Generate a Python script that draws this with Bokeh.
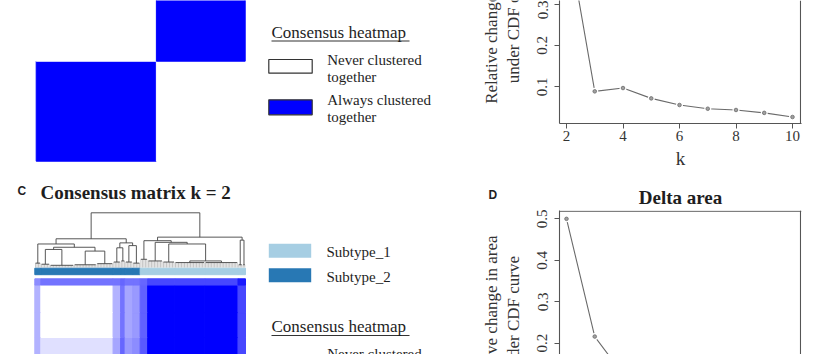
import math
from bokeh.plotting import figure
from bokeh.layouts import row, column
from bokeh.models import Range1d, Span, FixedTicker
from bokeh.core.properties import value
from bokeh.embed import file_html
from bokeh.resources import INLINE

# ---------------- data ----------------
k_values = [2, 3, 4, 5, 6, 7, 8, 9, 10]
delta_area_b = [0.48, 0.089, 0.097, 0.072, 0.056, 0.047, 0.044, 0.037, 0.027]
delta_area_d = [0.50, 0.216, 0.125, 0.085, 0.065, 0.052, 0.045, 0.038, 0.030]
x_ticks = [2, 4, 6, 8, 10]
y_ticks_b = [0.1, 0.2, 0.3]
y_ticks_d = [0.2, 0.3, 0.4, 0.5]

# panel A consensus matrix (k = 2): cluster sizes and block consensus
clusters_a = [69, 51]
consensus_a = [[1.0, 0.0],
               [0.0, 1.0]]

# panel C consensus matrix (k = 2): ordered sample segments
segment_sizes_c = [4, 48, 5, 3, 5, 5, 5, 18, 20, 22, 5]
segment_subtype_c = [2, 2, 2, 2, 2, 2, 1, 1, 1, 1, 1]
consensus_c = [
    [0.80, 0.70, 0.60, 0.45, 0.55, 0.50, 0.35, 0.30, 0.30, 0.30, 0.45],
    [0.70, 1.00, 0.75, 0.45, 0.70, 0.60, 0.10, 0.12, 0.00, 0.00, 0.55],
    [0.60, 0.75, 0.90, 0.50, 0.60, 0.60, 0.40, 0.35, 0.30, 0.30, 0.55],
    [0.45, 0.45, 0.50, 0.90, 0.50, 0.50, 0.60, 0.60, 0.55, 0.55, 0.60],
    [0.55, 0.70, 0.60, 0.50, 0.90, 0.60, 0.45, 0.40, 0.35, 0.35, 0.55],
    [0.50, 0.60, 0.60, 0.50, 0.60, 0.90, 0.50, 0.45, 0.40, 0.40, 0.55],
    [0.35, 0.10, 0.40, 0.60, 0.45, 0.50, 0.90, 0.65, 0.62, 0.62, 0.60],
    [0.30, 0.12, 0.35, 0.60, 0.40, 0.45, 0.65, 1.00, 1.00, 1.00, 0.72],
    [0.30, 0.00, 0.30, 0.55, 0.35, 0.40, 0.62, 1.00, 1.00, 1.00, 0.72],
    [0.30, 0.00, 0.30, 0.55, 0.35, 0.40, 0.62, 1.00, 1.00, 1.00, 0.72],
    [0.45, 0.55, 0.55, 0.60, 0.55, 0.55, 0.60, 0.72, 0.72, 0.72, 0.90],
]
subtype_names = ["Subtype_1", "Subtype_2"]
subtype_colors = ["#a6cee3", "#2878b4"]

# dendrogram of panel C: leaf groups (first sample, last sample, height) and merges
leaf_groups_c = [
    (0, 3, 0.08), (4, 9, 0.06), (10, 25, 0.04), (26, 40, 0.05), (41, 51, 0.07),
    (52, 56, 0.10), (57, 59, 0.12), (60, 64, 0.10), (65, 69, 0.08),
    (70, 74, 0.15), (75, 84, 0.12), (85, 92, 0.10), (93, 112, 0.09),
    (113, 134, 0.09), (135, 137, 0.05), (138, 139, 0.05),
]
tree_c = (1.0,
          (0.525, (0.43, 0, (0.37, (0.33, 1, 2), (0.30, 3, 4))),
                  (0.45, (0.36, 5, 6), (0.40, 7, 8))),
          (0.555, (0.49, 9, (0.46, 10, (0.43, 11, (0.12, 12, 13)))),
                  (0.50, 14, 15)))

ylabel_lines = ["Relative change in area", "under CDF curve"]

SERIF = "Liberation Serif"
SANS = "Liberation Sans"
TXT = "#1e1e1e"
AX = "#555555"
LEFT_W = 520


def cons_color(v):
    r = int(round(255 * (1 - v)))
    return "#%02x%02x%02x" % (r, r, 255)


def cum(sizes):
    out = [0]
    for s in sizes:
        out.append(out[-1] + s)
    return out


# ---------------- left canvas (panels A and C, plus left margins of B and D) ----------------
p = figure(width=LEFT_W, height=354, x_range=Range1d(0, LEFT_W), y_range=Range1d(354, 0),
           output_backend="svg", toolbar_location=None, min_border=0,
           outline_line_color=None)
p.axis.visible = False
p.grid.visible = False

# panel A heatmap
HA_X0, HA_W, HA_BOTTOM = 35.7, 209.0, 160.7
ca = cum(clusters_a)
sw_a = HA_W / ca[-1]
rh_a = 100.0 / clusters_a[0]
qa = dict(left=[], right=[], top=[], bottom=[], color=[])
for i in range(len(clusters_a)):
    for j in range(len(clusters_a)):
        qa["left"].append(HA_X0 + ca[j] * sw_a)
        qa["right"].append(HA_X0 + ca[j + 1] * sw_a)
        qa["bottom"].append(HA_BOTTOM - ca[i] * rh_a)
        qa["top"].append(HA_BOTTOM - ca[i + 1] * rh_a)
        qa["color"].append(cons_color(consensus_a[i][j]))
p.quad(left="left", right="right", top="top", bottom="bottom", fill_color="color",
       line_color="color", line_width=1.0, source=qa)

# panel C heatmap
HC_X0, HC_W, HC_TOP = 34.3, 210.7, 278.3
cc = cum(segment_sizes_c)
n_c = cc[-1]
sw_c = HC_W / n_c
rh_c = sw_c * 0.83
HC_BOTTOM = HC_TOP + n_c * rh_c
qc = dict(left=[], right=[], top=[], bottom=[], color=[])
for i in range(len(segment_sizes_c)):
    for j in range(len(segment_sizes_c)):
        qc["left"].append(HC_X0 + cc[j] * sw_c)
        qc["right"].append(HC_X0 + cc[j + 1] * sw_c)
        qc["bottom"].append(HC_BOTTOM - cc[i] * rh_c)
        qc["top"].append(HC_BOTTOM - cc[i + 1] * rh_c)
        qc["color"].append(cons_color(consensus_c[i][j]))
p.quad(left="left", right="right", top="top", bottom="bottom", fill_color="color",
       line_color="color", line_width=1.0, source=qc)

# subtype colour bar
BAR_TOP, BAR_BOTTOM = 267.7, 274.2
qb = dict(left=[], right=[], color=[])
for j, st in enumerate(segment_subtype_c):
    qb["left"].append(HC_X0 + cc[j] * sw_c)
    qb["right"].append(HC_X0 + cc[j + 1] * sw_c)
    qb["color"].append(subtype_colors[st - 1])
p.quad(left="left", right="right", top=BAR_TOP, bottom=BAR_BOTTOM, fill_color="color",
       line_color="color", line_width=1.0, source=qb)

# dendrogram
DEND_BASE, DEND_SCALE = 267.0, 54.7
seg = dict(x0=[], y0=[], x1=[], y1=[])
comb = dict(x0=[], y0=[], x1=[], y1=[])


def sx(i):
    return HC_X0 + (i + 0.5) * sw_c


def hy(h):
    return DEND_BASE - h * DEND_SCALE


def add(d, x0, y0, x1, y1):
    d["x0"].append(x0); d["y0"].append(y0); d["x1"].append(x1); d["y1"].append(y1)


def draw(node):
    if isinstance(node, int):
        a, b, h = leaf_groups_c[node]
        for i in range(a, b + 1):
            add(comb, sx(i), hy(0), sx(i), hy(h))
        add(seg, sx(a), hy(h), sx(b), hy(h))
        return (sx(a) + sx(b)) / 2, h
    h, l, r = node
    xl, hl = draw(l)
    xr, hr = draw(r)
    add(seg, xl, hy(hl), xl, hy(h))
    add(seg, xr, hy(hr), xr, hy(h))
    add(seg, xl, hy(h), xr, hy(h))
    return (xl + xr) / 2, h


draw(tree_c)
p.segment(x0="x0", y0="y0", x1="x1", y1="y1", line_color="#8a8a8a", line_width=0.5, source=comb)
p.segment(x0="x0", y0="y0", x1="x1", y1="y1", line_color="#444444", line_width=0.9, source=seg)

# legends
p.quad(left=[268.3], right=[311.7], top=[59.0], bottom=[72.7], fill_color="white",
       line_color="#333333", line_width=1.2)
p.quad(left=[268.3], right=[311.7], top=[99.3], bottom=[114.3], fill_color=cons_color(1.0),
       line_color="#333333", line_width=1.2)
p.quad(left=[268.3], right=[311.7], top=[354.5], bottom=[368.0], fill_color="white",
       line_color="#333333", line_width=1.2)
p.quad(left=[268.3], right=[310.7], top=[243.3], bottom=[257.3], fill_color=subtype_colors[0],
       line_color=None)
p.quad(left=[268.3], right=[310.7], top=[267.7], bottom=[281.7], fill_color=subtype_colors[1],
       line_color=None)
p.segment(x0=[271, 271], y0=[40.5, 335.0], x1=[409, 409], y1=[40.5, 335.0],
          line_color="#333333", line_width=1.1)


def txt(xs, baselines, texts, size, font=SERIF, style="normal", align="left", angle=0.0,
        color=TXT, mid=None):
    # place texts by their baseline (or by their centre when rotated)
    px = float(size.replace("px", ""))
    ys = [b - 0.34 * px for b in baselines] if mid is None else mid
    p.text(x=xs, y=ys, text=texts, text_font=value(font), text_font_size=value(size),
           text_font_style=style, text_baseline="middle", text_align=align,
           text_color=color, angle=angle)


txt([271, 271], [37.3, 331.7], ["Consensus heatmap", "Consensus heatmap"], "17px")
txt([326.7, 326.7, 326.7, 326.7, 326.7],
    [64.5, 81.5, 104.5, 121.5, 359.0],
    ["Never clustered", "together", "Always clustered", "together", "Never clustered"], "15px")
txt([326, 326], [256.7, 281.7], subtype_names, "15px")
txt([40], [198], ["Consensus matrix k = 2"], "19px", style="bold")
txt([17], [195], ["C"], "12px", font=SANS, style="bold")
txt([488], [199], ["D"], "12px", font=SANS, style="bold")

# rotated y-axis titles of the two delta-area panels
txt([491, 513], None, ylabel_lines, "17px", align="center", angle=math.pi / 2,
    color="#333333", mid=[23.8, 23.8])
txt([491, 513], None, ylabel_lines, "17px", align="center", angle=math.pi / 2,
    color="#333333", mid=[314.5, 314.5])

# ---------------- right panels (delta area) ----------------
FRAME_LEFT = 559.0
PX_PER_K = 28.25
K_AT_LEFT = 2 - (566.0 - FRAME_LEFT) / PX_PER_K
BORDER_LEFT = int(FRAME_LEFT - LEFT_W)


def page_to_k(px):
    return K_AT_LEFT + (px - FRAME_LEFT) / PX_PER_K


def style_axes(f, yticks):
    for ax in f.axis:
        ax.axis_line_color = AX
        ax.axis_line_width = 1.1
        ax.major_tick_line_color = AX
        ax.major_tick_in = 0
        ax.major_tick_out = 5
        ax.minor_tick_line_color = None
        ax.major_label_text_font = SERIF
        ax.major_label_text_font_size = "15px"
        ax.major_label_text_color = "#333333"
        ax.axis_label_text_font = SERIF
        ax.axis_label_text_font_size = "19px"
        ax.axis_label_text_font_style = "normal"
        ax.axis_label_text_color = "#333333"
    f.yaxis.ticker = FixedTicker(ticks=yticks)
    f.yaxis.major_label_orientation = "vertical"
    f.yaxis.major_label_standoff = 7
    f.grid.visible = False


def draw_series(f, vals):
    f.line(k_values, vals, line_color="#6a6a6a", line_width=1.1)
    f.scatter(k_values, vals, size=7, fill_color="white", line_color=None)
    f.scatter(k_values, vals, size=3.6, fill_color="#a0a0a0", line_color="#6a6a6a",
              line_width=0.8)


RIGHT_W = 830 - LEFT_W
x_end = K_AT_LEFT + 242 / PX_PER_K
x_frame_right = page_to_k(800.0)

# panel B (top right)
px_per_01_b = 41.39
def yb(py):
    return 0.1 + (86.3 - py) / px_per_01_b * 0.1

fb = figure(width=RIGHT_W, height=175, x_range=Range1d(K_AT_LEFT, x_end),
            y_range=Range1d(yb(123.0), yb(0.0)), output_backend="svg",
            toolbar_location=None, min_border_left=BORDER_LEFT, min_border_right=29,
            min_border_top=0, min_border_bottom=52, outline_line_color=None)
fb.xaxis.ticker = FixedTicker(ticks=x_ticks)
fb.xaxis.axis_label = "k"
fb.xaxis.major_label_standoff = 2
fb.xaxis.axis_label_standoff = 4
style_axes(fb, y_ticks_b)
draw_series(fb, delta_area_b)
fb.add_layout(Span(location=x_frame_right, dimension="height", line_color=AX, line_width=1.1))

# panel D (bottom right)
px_per_01_d = 41.45
def yd(py):
    return 0.2 + (342.7 - py) / px_per_01_d * 0.1

fd = figure(width=RIGHT_W, height=179, x_range=Range1d(K_AT_LEFT, x_end),
            y_range=Range1d(yd(354.0), yd(210.0)), output_backend="svg",
            toolbar_location=None, min_border_left=BORDER_LEFT, min_border_right=29,
            min_border_top=35, min_border_bottom=0, outline_line_color=None,
            title="Delta area")
fd.title.align = "center"
fd.title.text_font = SERIF
fd.title.text_font_size = "19px"
fd.title.text_font_style = "bold"
fd.title.text_color = TXT
fd.title.standoff = 5
style_axes(fd, y_ticks_d)
fd.xaxis.visible = False
draw_series(fd, delta_area_d)
fd.add_layout(Span(location=x_frame_right, dimension="height", line_color=AX, line_width=1.1))
fd.add_layout(Span(location=yd(210.7), dimension="width", line_color=AX, line_width=1.1))

layout = row(p, column(fb, fd, spacing=0), spacing=0)
open("out.html", "w").write(file_html(layout, INLINE))
